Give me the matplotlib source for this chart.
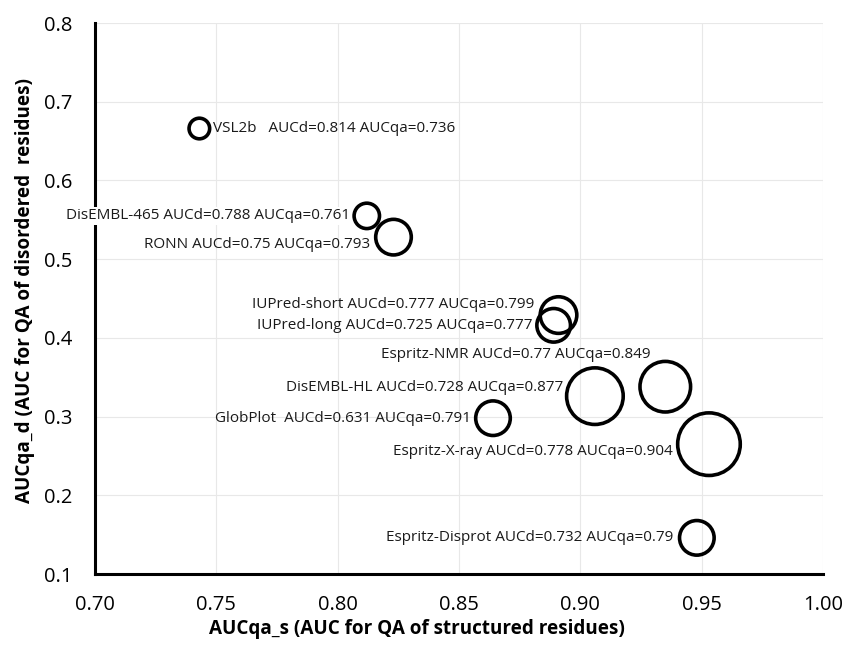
import matplotlib.pyplot as plt

plt.rcParams["font.family"] = ["Open Sans", "DejaVu Sans"]

# predictors, AUCqa_s (x), AUCqa_d (y), bubble size, label text
names = ["VSL2b", "DisEMBL-465", "RONN", "IUPred-short", "IUPred-long",
         "Espritz-NMR", "DisEMBL-HL", "GlobPlot", "Espritz-X-ray", "Espritz-Disprot"]
auc_s = [0.743, 0.812, 0.823, 0.891, 0.889, 0.935, 0.906, 0.864, 0.953, 0.948]
auc_d = [0.666, 0.555, 0.528, 0.429, 0.416, 0.338, 0.326, 0.298, 0.265, 0.146]
bubble = [10.3, 12.7, 17.8, 18.3, 16.8, 25.3, 28.3, 17.3, 31.3, 17.3]
labels = [
    "VSL2b   AUCd=0.814 AUCqa=0.736",
    "DisEMBL-465 AUCd=0.788 AUCqa=0.761",
    "RONN AUCd=0.75 AUCqa=0.793",
    "IUPred-short AUCd=0.777 AUCqa=0.799",
    "IUPred-long AUCd=0.725 AUCqa=0.777",
    "Espritz-NMR AUCd=0.77 AUCqa=0.849",
    "DisEMBL-HL AUCd=0.728 AUCqa=0.877",
    "GlobPlot  AUCd=0.631 AUCqa=0.791",
    "Espritz-X-ray AUCd=0.778 AUCqa=0.904",
    "Espritz-Disprot AUCd=0.732 AUCqa=0.79",
]

# label placement (pixel offsets from bubble centre, up is positive)
offsets = [(14, 0), (-17, 0), (-23, -7), (-24, 11), (-21, 0),
           (-15, 32), (-32, 9), (-22, 0), (-36, -7), (-23, 0)]

fig = plt.figure(figsize=(8.43, 6.45), dpi=100)
ax = fig.add_axes([0.1127, 0.110, 0.8636, 0.8543])

sizes = [(2 * r * 0.72) ** 2 for r in bubble]
ax.scatter(auc_s, auc_d, s=sizes, facecolors="none", edgecolors="black",
           linewidths=2.6, zorder=3)

for i, txt in enumerate(labels):
    dx, dy = offsets[i]
    ha = "left" if dx > 0 else "right"
    bbox = None
    if names[i] == "DisEMBL-465":
        bbox = dict(facecolor="white", edgecolor="none", pad=1)
    ax.annotate(txt, (auc_s[i], auc_d[i]), xytext=(dx, dy),
                textcoords="offset pixels", ha=ha, va="center",
                fontsize=11, color="#1a1a1a", bbox=bbox, zorder=4)

ax.set_xlim(0.70, 1.00)
ax.set_ylim(0.1, 0.8)
ax.set_xticks([0.70, 0.75, 0.80, 0.85, 0.90, 0.95, 1.00])
ax.set_xticklabels(["0.70", "0.75", "0.80", "0.85", "0.90", "0.95", "1.00"])
ax.set_yticks([0.1, 0.2, 0.3, 0.4, 0.5, 0.6, 0.7, 0.8])
ax.set_yticklabels(["0.1", "0.2", "0.3", "0.4", "0.5", "0.6", "0.7", "0.8"])
ax.tick_params(length=0, labelsize=14.5)
ax.tick_params(axis="x", pad=15)
ax.tick_params(axis="y", pad=16)

ax.grid(True, color="#e8e8e8", linewidth=0.8)
ax.set_axisbelow(True)
for side in ["top", "right"]:
    ax.spines[side].set_visible(False)
for side in ["left", "bottom"]:
    ax.spines[side].set_linewidth(2.2)
    ax.spines[side].set_color("black")

ax.set_xlabel("AUCqa_s (AUC for QA of structured residues)", fontsize=13.6,
              fontweight="bold", va="center")
ax.set_ylabel("AUCqa_d (AUC for QA of disordered  residues)", fontsize=13.6,
              fontweight="bold")
ax.xaxis.set_label_coords(0.4425, -0.099)
ax.yaxis.set_label_coords(-0.082, 0.514)

fig.savefig("out.png", dpi=100)
